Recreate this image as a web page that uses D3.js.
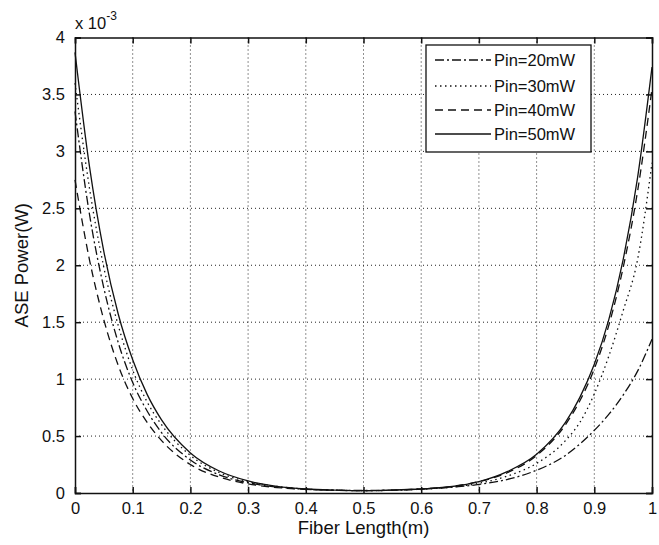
<!DOCTYPE html>
<html><head><meta charset="utf-8">
<script src="https://cdn.jsdelivr.net/npm/d3@7"></script>
<style>
html,body{margin:0;padding:0;background:#fff;}
text{font-family:"Liberation Sans",Arial,sans-serif;fill:#111;}
</style></head>
<body><svg id="c" width="659" height="545"></svg>
<script>
// Data (values in units of 1e-3 W)
const xs = [0,0.025,0.05,0.075,0.1,0.125,0.15,0.2,0.25,0.3,0.35,0.4,0.45,0.5,0.55,0.6,0.65,0.7,0.75,0.8,0.85,0.875,0.9,0.925,0.95,0.975,1];
const pin20 = [3.35,2.45,1.80,1.32,0.97,0.72,0.53,0.29,0.16,0.09,0.052,0.033,0.025,0.022,0.026,0.035,0.05,0.075,0.12,0.20,0.33,0.43,0.55,0.69,0.86,1.07,1.35];
const pin30 = [3.60,2.68,1.98,1.47,1.08,0.80,0.60,0.33,0.18,0.10,0.058,0.035,0.025,0.02,0.024,0.033,0.05,0.085,0.15,0.26,0.46,0.62,0.87,1.20,1.60,2.05,2.90];
const pin40 = [2.75,2.05,1.52,1.12,0.83,0.62,0.46,0.25,0.14,0.08,0.048,0.032,0.024,0.02,0.025,0.035,0.055,0.10,0.18,0.33,0.60,0.81,1.09,1.47,1.98,2.65,3.55];
const pin50 = [3.87,2.87,2.12,1.57,1.17,0.866,0.642,0.352,0.193,0.106,0.058,0.035,0.025,0.02,0.025,0.035,0.055,0.10,0.19,0.34,0.62,0.84,1.13,1.52,2.05,2.77,3.74];
const seriesNames = ["Pin=20mW","Pin=30mW","Pin=40mW","Pin=50mW"];
const seriesValues = [pin20,pin30,pin40,pin50];
const xTicks = [0,0.1,0.2,0.3,0.4,0.5,0.6,0.7,0.8,0.9,1];
const yTicks = [0,0.5,1,1.5,2,2.5,3,3.5,4];
const xTickLabels = ["0","0.1","0.2","0.3","0.4","0.5","0.6","0.7","0.8","0.9","1"];
const yTickLabels = ["0","0.5","1","1.5","2","2.5","3","3.5","4"];
const dashes = ["9,3,2,3","1.5,3.5","8,5",null];

const svg = d3.select("#c");
const L=75, R=652, T=37.5, B=493;
const x = d3.scaleLinear().domain([0,1]).range([L,R]);
const y = d3.scaleLinear().domain([0,4]).range([B,T]);
const fs = 16.5, fsLab = 18.5;

// grid
const g = svg.append("g");
xTicks.slice(1,-1).forEach(t=>{
  g.append("line").attr("x1",x(t)).attr("x2",x(t)).attr("y1",T).attr("y2",B)
   .attr("stroke","#222").attr("stroke-width",1).attr("stroke-dasharray","1,3");
});
yTicks.slice(1,-1).forEach(t=>{
  g.append("line").attr("x1",L).attr("x2",R).attr("y1",y(t)).attr("y2",y(t))
   .attr("stroke","#222").attr("stroke-width",1).attr("stroke-dasharray","1,3");
});

// curves
const line = d3.line().x((d,i)=>x(xs[i])).y(d=>y(d)).curve(d3.curveMonotoneX);
seriesValues.forEach((vals,k)=>{
  const p = svg.append("path").datum(vals).attr("d",line).attr("fill","none")
    .attr("stroke","#111").attr("stroke-width",1.3);
  if(dashes[k]) p.attr("stroke-dasharray",dashes[k]);
});

// axes (box with inward ticks)
const axB = d3.axisBottom(x).tickValues(xTicks).tickSize(-6).tickFormat((d,i)=>xTickLabels[i]).tickPadding(9);
const axT = d3.axisTop(x).tickValues(xTicks).tickSize(-6).tickFormat("");
const axLf = d3.axisLeft(y).tickValues(yTicks).tickSize(-6).tickFormat((d,i)=>yTickLabels[i]).tickPadding(10);
const axRt = d3.axisRight(y).tickValues(yTicks).tickSize(-6).tickFormat("");
function style(sel){
  sel.selectAll("path").attr("stroke","#111").attr("stroke-width",1.5);
  sel.selectAll("line").attr("stroke","#111").attr("stroke-width",1.5);
  sel.selectAll("text").style("font-family","'Liberation Sans',Arial,sans-serif").style("font-size",fs+"px").attr("fill","#111");
}
svg.append("g").attr("transform",`translate(0,${B})`).call(axB).call(style);
svg.append("g").attr("transform",`translate(0,${T})`).call(axT).call(style);
svg.append("g").attr("transform",`translate(${L},0)`).call(axLf).call(style);
svg.append("g").attr("transform",`translate(${R},0)`).call(axRt).call(style);

// exponent label
const ex = svg.append("text").attr("x",L).attr("y",29).style("font-size",fs+"px");
ex.append("tspan").text("x 10");
ex.append("tspan").attr("dy",-9).style("font-size","12px").text("-3");

// axis titles
svg.append("text").attr("x",(L+R)/2).attr("y",534).attr("text-anchor","middle").style("font-size",fsLab+"px").text("Fiber Length(m)");
svg.append("text").attr("transform",`translate(28,${(T+B)/2}) rotate(-90)`).attr("text-anchor","middle").style("font-size",fsLab+"px").text("ASE Power(W)");

// legend
const lg = svg.append("g");
lg.append("rect").attr("x",426).attr("y",45).attr("width",165).attr("height",107)
  .attr("fill","#fff").attr("stroke","#111").attr("stroke-width",1.3);
const ly = [60,86,110,134];
seriesNames.forEach((n,k)=>{
  const ln = lg.append("line").attr("x1",435).attr("x2",491).attr("y1",ly[k]).attr("y2",ly[k])
    .attr("stroke","#111").attr("stroke-width",1.3);
  if(dashes[k]) ln.attr("stroke-dasharray",dashes[k]);
  lg.append("text").attr("x",494).attr("y",ly[k]).attr("dy","0.36em").style("font-size",fs+"px").text(n);
});
</script></body></html>
